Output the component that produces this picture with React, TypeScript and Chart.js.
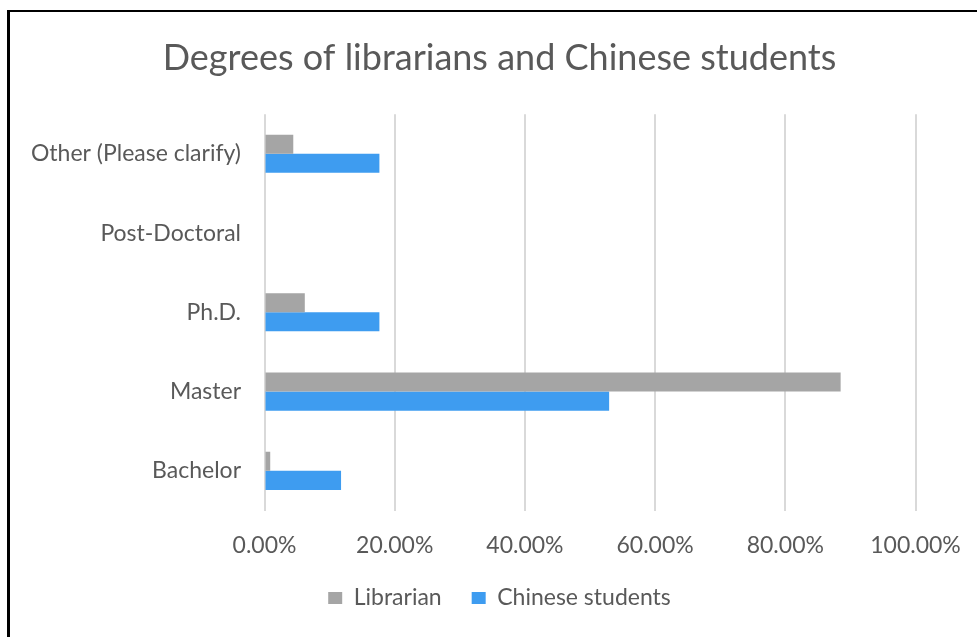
import React, { useEffect, useRef } from "react";
import { Chart, registerables } from "chart.js";

Chart.register(...registerables);

const chartTitle = "Degrees of librarians and Chinese students";
const categories = ["Other (Please clarify)", "Post-Doctoral", "Ph.D.", "Master", "Bachelor"];
const seriesNames = ["Librarian", "Chinese students"];
const librarianValues = [4.42, 0, 6.19, 88.5, 0.88];
const chineseStudentValues = [17.65, 0, 17.65, 52.94, 11.76];
const xTickMin = 0;
const xTickMax = 100;
const xTickStep = 20;

const FONT = "Lato, 'Open Sans', sans-serif";
const TEXT = "#595959";

export default function App() {
  const ref = useRef<HTMLCanvasElement | null>(null);

  useEffect(() => {
    if (!ref.current) return;
    const chart = new Chart(ref.current, {
      type: "bar",
      data: {
        labels: categories,
        datasets: [
          {
            label: seriesNames[0],
            data: librarianValues,
            backgroundColor: "#A5A5A5",
            borderWidth: 0,
          },
          {
            label: seriesNames[1],
            data: chineseStudentValues,
            backgroundColor: "#3E9CF0",
            borderWidth: 0,
          },
        ],
      },
      options: {
        indexAxis: "y",
        animation: false,
        responsive: false,
        maintainAspectRatio: false,
        devicePixelRatio: 1,
        datasets: {
          bar: { categoryPercentage: 0.48, barPercentage: 1 },
        },
        layout: { padding: { left: 22, right: 0, top: 0, bottom: 17.5 } },
        plugins: {
          title: {
            display: true,
            text: chartTitle,
            color: TEXT,
            font: { family: FONT, size: 36, weight: "normal", lineHeight: 1.2 },
            padding: { top: 36.5, bottom: 34.5 },
          },
          legend: {
            position: "bottom",
            labels: {
              color: TEXT,
              font: { family: FONT, size: 23 },
              boxWidth: 14,
              boxHeight: 12,
              padding: 30,
            },
          },
          tooltip: { enabled: false },
        },
        scales: {
          x: {
            min: xTickMin,
            max: xTickMax,
            ticks: {
              stepSize: xTickStep,
              color: TEXT,
              font: { family: FONT, size: 23 },
              padding: 21,
              callback: (v: any) => Number(v).toFixed(2) + "%",
            },
            grid: { color: "#D9D9D9", lineWidth: 2, drawTicks: false },
            border: { display: false },
            afterFit: (s: any) => {
              s.height = 46;
              s.paddingRight = 61.5;
            },
          },
          y: {
            ticks: {
              color: TEXT,
              font: { family: FONT, size: 23 },
              padding: 23.5,
            },
            grid: { display: false, drawTicks: false },
            border: { display: false },
            afterFit: (s: any) => {
              s.width = 242.5;
            },
          },
        },
      },
    });
    return () => chart.destroy();
  }, []);

  return (
    <>
      <div style={{ position: "absolute", left: 0, top: 0, width: 977, height: 637, background: "#fff" }}>
        <canvas
          ref={ref}
          width={977}
          height={637}
          style={{ position: "absolute", left: 0, top: 0, width: 977, height: 637 }}
        />
      </div>
      <div
        style={{
          position: "absolute",
          left: 7,
          top: 10,
          width: 970,
          height: 627,
          boxSizing: "border-box",
          borderTop: "2px solid #000",
          borderLeft: "3px solid #000",
          pointerEvents: "none",
        }}
      />
    </>
  );
}
